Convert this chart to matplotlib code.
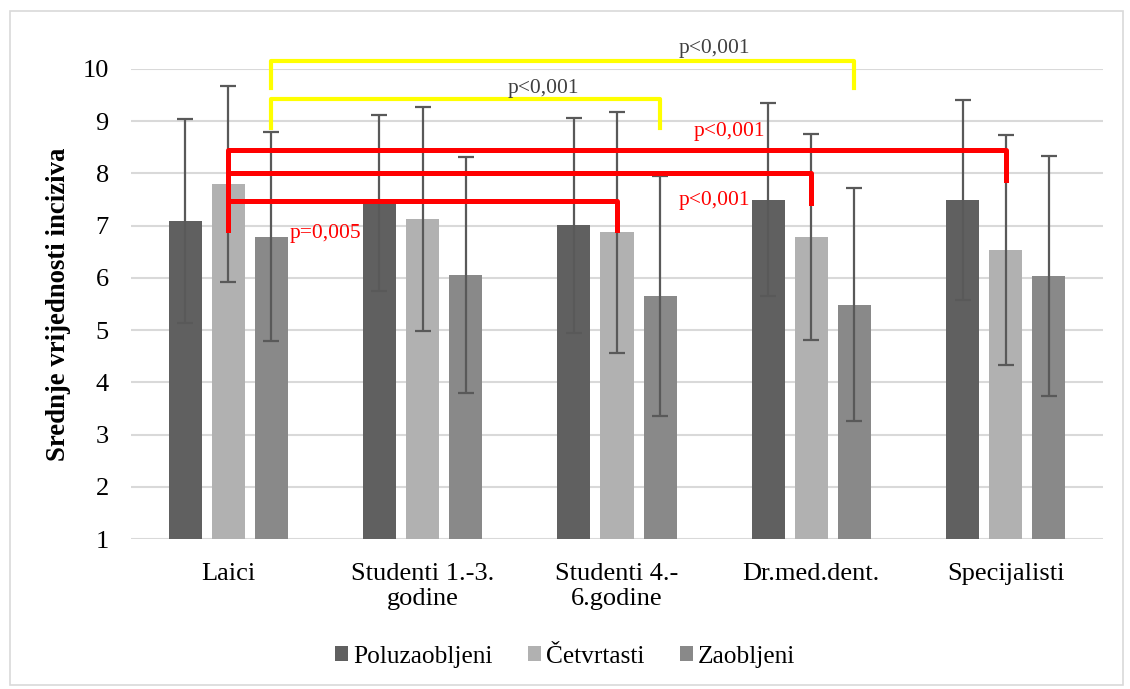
"""
Grouped bar chart of mean incisor scores with SD error bars and significance brackets
"""

import numpy as np
import matplotlib.pyplot as plt
from matplotlib import patches

plt.rcParams["font.family"] = ["Liberation Serif", "DejaVu Serif"]

categories = ["Laici", "Studenti 1.-3.\ngodine", "Studenti 4.-\n6.godine",
              "Dr.med.dent.", "Specijalisti"]
series_names = ["Poluzaobljeni", "Četvrtasti", "Zaobljeni"]

poluzaobljeni = [7.09, 7.43, 7.01, 7.50, 7.49]
cetvrtasti = [7.80, 7.13, 6.87, 6.78, 6.54]
zaobljeni = [6.79, 6.06, 5.65, 5.49, 6.03]

poluzaobljeni_sd = [1.96, 1.69, 2.06, 1.84, 1.91]
cetvrtasti_sd = [1.88, 2.15, 2.30, 1.97, 2.20]
zaobljeni_sd = [2.00, 2.26, 2.30, 2.24, 2.30]

# (group a, series a, group b, series b, bracket height, left foot, right foot)
yellow_brackets = [(0, 2, 3, 2, 10.15, 9.64, 9.64),
                   (0, 2, 2, 2, 9.43, 8.87, 8.87)]
red_brackets = [(0, 1, 4, 1, 8.45, 6.92, 7.88),
                (0, 1, 3, 1, 8.01, 6.92, 7.43),
                (0, 1, 2, 1, 7.47, 6.92, 6.92)]

# (text, x in groups, y, colour)
p_labels = [("p<0,001", 2.50, 10.4, "#404040"),
            ("p<0,001", 1.62, 9.62, "#404040"),
            ("p<0,001", 2.58, 8.8, "red"),
            ("p<0,001", 2.50, 7.48, "red"),
            ("p=0,005", 0.50, 6.85, "red")]

COLORS = ["#606060", "#b1b1b1", "#898989"]
BAR_W = 0.17
OFFSET = 0.222

fig = plt.figure(figsize=(11.3, 6.89), dpi=100)
ax = fig.add_axes([0.116, 0.2177, 0.86, 0.6822])

x = np.arange(len(categories))
values = [poluzaobljeni, cetvrtasti, zaobljeni]
sds = [poluzaobljeni_sd, cetvrtasti_sd, zaobljeni_sd]
for i, (vals, sd) in enumerate(zip(values, sds)):
    pos = x + (i - 1) * OFFSET
    ax.bar(pos, np.array(vals) - 1, bottom=1, width=BAR_W, color=COLORS[i],
           label=series_names[i], zorder=2)
    ax.errorbar(pos, vals, yerr=sd, fmt="none", ecolor="#595959",
                elinewidth=1.6, capsize=6, capthick=1.6, zorder=3)


def bracket(g1, s1, g2, s2, top, left_y, right_y, color, lw):
    x1 = g1 + (s1 - 1) * OFFSET
    x2 = g2 + (s2 - 1) * OFFSET
    ax.plot([x1, x1, x2, x2], [left_y, top, top, right_y], color=color,
            lw=lw, solid_joinstyle="round", clip_on=False, zorder=4)


for b in yellow_brackets:
    bracket(*b, color="#ffff00", lw=3.0)
for b in red_brackets:
    bracket(*b, color="#ff0000", lw=3.6)

for text, px, py, col in p_labels:
    ax.text(px, py, text, color=col, fontsize=15.5, ha="center", va="center",
            zorder=5)

ax.set_xlim(-0.5, len(categories) - 0.5)
ax.set_ylim(1, 10)
ax.set_yticks(range(1, 11))
ax.set_xticks(x)
ax.set_xticklabels(categories, linespacing=1.2)
ax.tick_params(length=0, colors="black")
ax.tick_params(axis="y", labelsize=19, pad=16)
ax.tick_params(axis="x", labelsize=19, pad=17)
ax.grid(axis="y", color="#d9d9d9", lw=1.5, zorder=0)
for s in ax.spines.values():
    s.set_visible(False)
ax.set_ylabel("Srednje vrijednosti inciziva", fontsize=19.3, fontweight="bold",
              labelpad=8)

fig.legend(loc="center", bbox_to_anchor=(0.5, 0.047), ncol=3,
           frameon=False, fontsize=18.3, handlelength=0.5, handleheight=0.5,
           handletextpad=0.2, columnspacing=1.4)

fig.patches.append(patches.Rectangle((0.009, 0.006), 0.985, 0.978,
                                     transform=fig.transFigure, fill=False,
                                     edgecolor="#d9d9d9", lw=1.2))

fig.savefig("out.png", dpi=100)
